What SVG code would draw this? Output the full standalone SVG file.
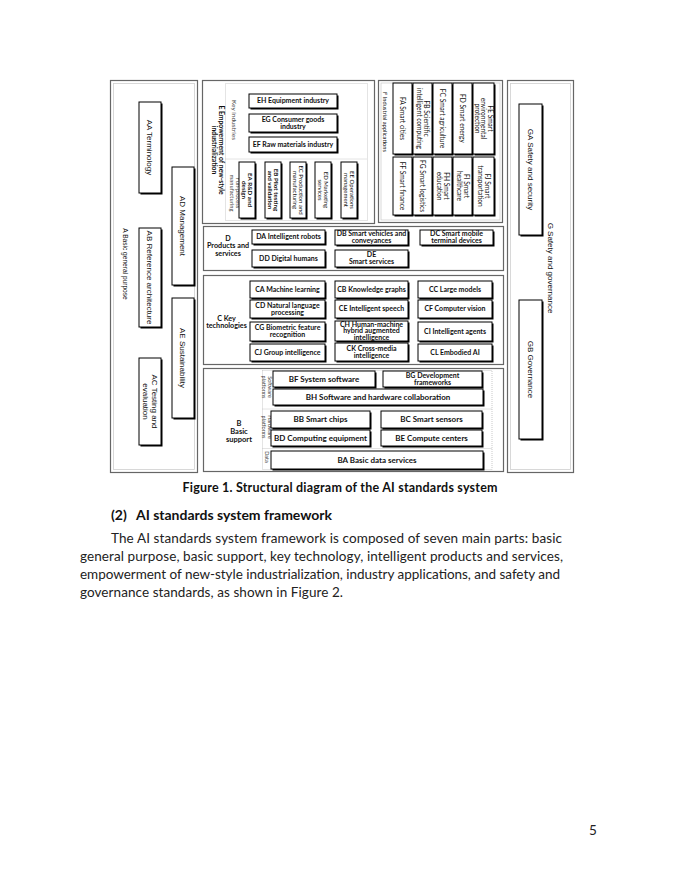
<svg xmlns="http://www.w3.org/2000/svg" width="680" height="880" viewBox="0 0 680 880">
<style>
text{font-family:Lato,"Noto Sans",sans-serif;fill:#111}
.fr{fill:#fff;stroke:#666;stroke-width:1.2}
.fi{fill:none;stroke:#cfcfcf;stroke-width:0.8}
.dt{fill:none;stroke:#bbb;stroke-width:0.8;stroke-dasharray:1 1}
.bx{fill:#fff;stroke:#000;stroke-width:1}
.sh{fill:#000}
.b{font-weight:700;font-size:7px;text-anchor:middle}
.bl{font-weight:700;font-size:7.2px;text-anchor:middle}
.bb{font-weight:700;font-size:8px;text-anchor:middle}
.be{font-weight:700;font-size:7px;text-anchor:middle}
.ev{font-weight:700;font-size:6.8px;text-anchor:middle}
.evb{font-weight:700;font-size:6.2px;text-anchor:middle}
.en{font-size:6px;text-anchor:middle}
.f{font-size:6.6px;text-anchor:middle}
.a{font-family:"Liberation Sans",Arial,sans-serif;font-size:8px;text-anchor:middle}
.as{font-family:"Liberation Sans",Arial,sans-serif;font-size:6.6px;text-anchor:middle}
.lb{font-size:5.5px;text-anchor:middle;fill:#444}
.cap{font-weight:700;font-size:12.5px;text-anchor:middle}
.h{font-weight:700;font-size:14px}
.p{font-size:13.5px;fill:#222}
</style>

<g id="connectors"/>

<!-- A Basic general purpose -->
<g id="A">
<rect class="fr" x="110.5" y="80.5" width="87" height="392"/>
<rect class="fi" x="113.5" y="83.5" width="81" height="386"/>
<text class="as" transform="translate(125,264) rotate(90)" y="2.3">A Basic general purpose</text>
</g>
<g id="AA"><rect class="sh" x="140.5" y="103.5" width="22" height="91"/><rect class="bx" x="139" y="102" width="22" height="91"/><text class="a" transform="translate(150,147.5) rotate(90)" y="2.8">AA Terminology</text></g>
<g id="AD"><rect class="sh" x="173.5" y="168.5" width="22" height="118"/><rect class="bx" x="172" y="167" width="22" height="118"/><text class="a" transform="translate(183,226) rotate(90)" y="2.8">AD Management</text></g>
<g id="AB"><rect class="sh" x="140.5" y="229.5" width="22" height="99"/><rect class="bx" x="139" y="228" width="22" height="99"/><text class="a" transform="translate(150,277.5) rotate(90)" y="2.8">AB Reference architecture</text></g>
<g id="AE"><rect class="sh" x="173.5" y="299.5" width="22" height="120"/><rect class="bx" x="172" y="298" width="22" height="120"/><text class="a" transform="translate(183,358) rotate(90)" y="2.8">AE Sustainability</text></g>
<g id="AC"><rect class="sh" x="140.5" y="359.5" width="22" height="87"/><rect class="bx" x="139" y="358" width="22" height="87"/><text class="a" transform="translate(150,401.5) rotate(90)"><tspan x="0" y="-1.7">AC Testing and</tspan><tspan x="0" y="7.3">evaluation</tspan></text></g>

<!-- G Safety and governance -->
<g id="G">
<rect class="fr" x="507.5" y="80.5" width="66" height="392"/>
<rect class="fi" x="510.5" y="83.5" width="60" height="386"/>
<text class="a" transform="translate(551,268) rotate(90)" y="2.8">G Safety and governance</text>
</g>
<g id="GA"><rect class="sh" x="520.5" y="105.5" width="23" height="131"/><rect class="bx" x="519" y="104" width="23" height="131"/><text class="a" transform="translate(530.5,169.5) rotate(90)" y="2.8">GA Safety and security</text></g>
<g id="GB"><rect class="sh" x="520.5" y="301.5" width="23" height="139"/><rect class="bx" x="519" y="300" width="23" height="139"/><text class="a" transform="translate(530.5,369.5) rotate(90)" y="2.8">GB Governance</text></g>

<!-- E Empowerment -->
<g id="E">
<rect class="fr" x="202.5" y="80.5" width="172" height="143"/>
<rect class="dt" x="225.5" y="83.5" width="142" height="137"/>
<line class="dt" x1="225.5" y1="159" x2="367.5" y2="159"/>
<text class="ev" transform="translate(217.5,150) rotate(90)"><tspan x="0" y="-1.12">E Empowerment of new-style</tspan><tspan x="0" y="5.88">industrialization</tspan></text>
<text class="lb" style="font-size:6.5px" transform="translate(234,120) rotate(90)" y="2.3">Key industries</text>
<text class="lb" style="font-size:5.8px" transform="translate(234.5,193) rotate(90)"><tspan x="0" y="-1">Full-process</tspan><tspan x="0" y="5">manufacturing</tspan></text>
</g>
<g id="EH"><rect class="sh" x="250.5" y="95.5" width="88" height="14"/><rect class="bx" x="249" y="94" width="88" height="14"/><text class="be" x="293" y="103.45">EH Equipment industry</text></g>
<g id="EG"><rect class="sh" x="250.5" y="115.5" width="88" height="18"/><rect class="bx" x="249" y="114" width="88" height="18"/><text class="be"><tspan x="293" y="121.95">EG Consumer goods</tspan><tspan x="293" y="128.95">industry</tspan></text></g>
<g id="EF"><rect class="sh" x="250.5" y="138.5" width="88" height="15"/><rect class="bx" x="249" y="137" width="88" height="15"/><text class="be" x="293" y="146.95">EF Raw materials industry</text></g>
<g id="EA"><rect class="sh" x="240.5" y="163.5" width="16" height="56"/><rect class="bx" x="239" y="162" width="16" height="56"/><text class="evb" transform="translate(247,190) rotate(90)"><tspan x="0" y="-0.98">EA R&amp;D and</tspan><tspan x="0" y="5.32">design</tspan></text></g>
<g id="EB"><rect class="sh" x="266.5" y="163.5" width="16" height="56"/><rect class="bx" x="265" y="162" width="16" height="56"/><text class="evb" transform="translate(273,190) rotate(90)"><tspan x="0" y="-0.98">EB Pilot testing</tspan><tspan x="0" y="5.32">and validation</tspan></text></g>
<g id="EC"><rect class="sh" x="291.5" y="163.5" width="16" height="56"/><rect class="bx" x="290" y="162" width="16" height="56"/><text class="en" transform="translate(298,190) rotate(90)"><tspan x="0" y="-1">EC Production and</tspan><tspan x="0" y="5.2">manufacturing</tspan></text></g>
<g id="ED"><rect class="sh" x="316.5" y="163.5" width="16" height="56"/><rect class="bx" x="315" y="162" width="16" height="56"/><text class="en" transform="translate(323,190) rotate(90)"><tspan x="0" y="-1">ED Marketing</tspan><tspan x="0" y="5.2">services</tspan></text></g>
<g id="EE"><rect class="sh" x="342.5" y="163.5" width="16" height="56"/><rect class="bx" x="341" y="162" width="16" height="56"/><text class="en" transform="translate(349,190) rotate(90)"><tspan x="0" y="-1">EE Operations</tspan><tspan x="0" y="5.2">management</tspan></text></g>

<!-- F Industrial applications -->
<g id="F">
<rect class="fr" x="378.5" y="80.5" width="124" height="142"/>
<rect class="fi" x="381" y="83" width="119" height="137"/>
<text class="f" style="font-size:5.8px" transform="translate(385,122) rotate(90)" y="2">F Industrial applications</text>
</g>
<g id="FA"><rect class="sh" x="394.5" y="84.5" width="19" height="71"/><rect class="bx" x="393" y="83" width="19" height="71"/><text class="f" transform="translate(402.5,118.5) rotate(90)" y="2.3">FA Smart cities</text></g>
<g id="FB"><rect class="sh" x="414.5" y="84.5" width="19" height="71"/><rect class="bx" x="413" y="83" width="19" height="71"/><text class="f" transform="translate(422.5,118.5) rotate(90)"><tspan x="0" y="-1">FB Scientific</tspan><tspan x="0" y="5.6">intelligent computing</tspan></text></g>
<g id="FC"><rect class="sh" x="434.5" y="84.5" width="19" height="71"/><rect class="bx" x="433" y="83" width="19" height="71"/><text class="f" transform="translate(442.5,118.5) rotate(90)" y="2.3">FC Smart agriculture</text></g>
<g id="FD"><rect class="sh" x="454.5" y="84.5" width="19" height="71"/><rect class="bx" x="453" y="83" width="19" height="71"/><text class="f" transform="translate(462.5,118.5) rotate(90)" y="2.3">FD Smart energy</text></g>
<g id="FE"><rect class="sh" x="474.5" y="84.5" width="21" height="71"/><rect class="bx" x="473" y="83" width="21" height="71"/><text class="f" transform="translate(483.5,118.5) rotate(90)"><tspan x="0" y="-4">FE Smart</tspan><tspan x="0" y="2.3">environmental</tspan><tspan x="0" y="8.6">protection</tspan></text></g>
<g id="FF"><rect class="sh" x="394.5" y="158.5" width="19" height="58"/><rect class="bx" x="393" y="157" width="19" height="58"/><text class="f" transform="translate(402.5,186) rotate(90)" y="2.3">FF Smart finance</text></g>
<g id="FG"><rect class="sh" x="414.5" y="158.5" width="19" height="58"/><rect class="bx" x="413" y="157" width="19" height="58"/><text class="f" transform="translate(422.5,186) rotate(90)" y="2.3">FG Smart logistics</text></g>
<g id="FH"><rect class="sh" x="434.5" y="158.5" width="19" height="58"/><rect class="bx" x="433" y="157" width="19" height="58"/><text class="f" transform="translate(442.5,186) rotate(90)"><tspan x="0" y="-1">FH Smart</tspan><tspan x="0" y="5.6">education</tspan></text></g>
<g id="FI"><rect class="sh" x="454.5" y="158.5" width="19" height="58"/><rect class="bx" x="453" y="157" width="19" height="58"/><text class="f" transform="translate(462.5,186) rotate(90)"><tspan x="0" y="-1">FI Smart</tspan><tspan x="0" y="5.6">healthcare</tspan></text></g>
<g id="FJ"><rect class="sh" x="474.5" y="158.5" width="21" height="58"/><rect class="bx" x="473" y="157" width="21" height="58"/><text class="f" transform="translate(483.5,186) rotate(90)"><tspan x="0" y="-1">FJ Smart</tspan><tspan x="0" y="5.6">transportation</tspan></text></g>

<!-- D Products and services -->
<g id="D">
<rect class="fr" x="203.5" y="226.5" width="300" height="44"/>
<text class="bl"><tspan x="228" y="240.5">D</tspan><tspan x="228" y="248">Products and</tspan><tspan x="228" y="255.5">services</tspan></text>
</g>
<g id="DA"><rect class="sh" x="253.5" y="231.5" width="73" height="14"/><rect class="bx" x="252" y="230" width="73" height="14"/><text class="b" x="288.5" y="239.45">DA Intelligent robots</text></g>
<g id="DB"><rect class="sh" x="336.5" y="231.5" width="73" height="15"/><rect class="bx" x="335" y="230" width="73" height="15"/><text class="b"><tspan x="371.5" y="236.45">DB Smart vehicles and</tspan><tspan x="371.5" y="243.45">conveyances</tspan></text></g>
<g id="DC"><rect class="sh" x="421.5" y="231.5" width="73" height="15"/><rect class="bx" x="420" y="230" width="73" height="15"/><text class="b"><tspan x="456.5" y="236.45">DC Smart mobile</tspan><tspan x="456.5" y="243.45">terminal devices</tspan></text></g>
<g id="DD"><rect class="sh" x="253.5" y="251.5" width="73" height="17"/><rect class="bx" x="252" y="250" width="73" height="17"/><text class="b" x="288.5" y="260.95">DD Digital humans</text></g>
<g id="DE"><rect class="sh" x="336.5" y="251.5" width="73" height="17"/><rect class="bx" x="335" y="250" width="73" height="17"/><text class="b"><tspan x="371.5" y="257.45">DE</tspan><tspan x="371.5" y="264.45">Smart services</tspan></text></g>

<!-- C Key technologies -->
<g id="C">
<rect class="fr" x="203.5" y="275.5" width="300" height="89"/>
<text class="bl"><tspan x="226.5" y="320.5">C Key</tspan><tspan x="226.5" y="328">technologies</tspan></text>
</g>
<g id="CA"><rect class="sh" x="251.5" y="282.5" width="75" height="17"/><rect class="bx" x="250" y="281" width="75" height="17"/><text class="b" x="287.5" y="291.95">CA Machine learning</text></g>
<g id="CB"><rect class="sh" x="336.5" y="282.5" width="73" height="17"/><rect class="bx" x="335" y="281" width="73" height="17"/><text class="b" x="371.5" y="291.95">CB Knowledge graphs</text></g>
<g id="CC"><rect class="sh" x="419.5" y="282.5" width="74" height="17"/><rect class="bx" x="418" y="281" width="74" height="17"/><text class="b" x="455" y="291.95">CC Large models</text></g>
<g id="CD"><rect class="sh" x="251.5" y="301.5" width="75" height="18"/><rect class="bx" x="250" y="300" width="75" height="18"/><text class="b"><tspan x="287.5" y="307.95">CD Natural language</tspan><tspan x="287.5" y="314.95">processing</tspan></text></g>
<g id="CE"><rect class="sh" x="336.5" y="301.5" width="73" height="18"/><rect class="bx" x="335" y="300" width="73" height="18"/><text class="b" x="371.5" y="311.45">CE Intelligent speech</text></g>
<g id="CF"><rect class="sh" x="419.5" y="301.5" width="74" height="18"/><rect class="bx" x="418" y="300" width="74" height="18"/><text class="b" x="455" y="311.45">CF Computer vision</text></g>
<g id="CG"><rect class="sh" x="251.5" y="323.5" width="75" height="19"/><rect class="bx" x="250" y="322" width="75" height="19"/><text class="b"><tspan x="287.5" y="330.45">CG Biometric feature</tspan><tspan x="287.5" y="337.45">recognition</tspan></text></g>
<g id="CH"><rect class="sh" x="336.5" y="322.5" width="73" height="20"/><rect class="bx" x="335" y="321" width="73" height="20"/><text class="b"><tspan x="371.5" y="326.95">CH Human-machine</tspan><tspan x="371.5" y="333.45">hybrid augmented</tspan><tspan x="371.5" y="339.95">intelligence</tspan></text></g>
<g id="CI"><rect class="sh" x="419.5" y="323.5" width="74" height="19"/><rect class="bx" x="418" y="322" width="74" height="19"/><text class="b" x="455" y="333.95">CI Intelligent agents</text></g>
<g id="CJ"><rect class="sh" x="251.5" y="345.5" width="75" height="17"/><rect class="bx" x="250" y="344" width="75" height="17"/><text class="b" x="287.5" y="354.95">CJ Group intelligence</text></g>
<g id="CK"><rect class="sh" x="336.5" y="344.5" width="73" height="18"/><rect class="bx" x="335" y="343" width="73" height="18"/><text class="b"><tspan x="371.5" y="350.95">CK Cross-media</tspan><tspan x="371.5" y="357.95">intelligence</tspan></text></g>
<g id="CL"><rect class="sh" x="419.5" y="345.5" width="74" height="17"/><rect class="bx" x="418" y="344" width="74" height="17"/><text class="b" x="455" y="354.95">CL Embodied AI</text></g>

<!-- B Basic support -->
<g id="B">
<rect class="fr" x="203.5" y="368.5" width="300" height="103"/>
<rect class="dt" x="262.5" y="370.5" width="229.5" height="99"/>
<line class="dt" x1="262.5" y1="409" x2="492" y2="409"/>
<line class="dt" x1="262.5" y1="448.5" x2="492" y2="448.5"/>
<text class="bb" style="font-size:7.5px"><tspan x="239" y="426">B</tspan><tspan x="239" y="434">Basic</tspan><tspan x="239" y="442">support</tspan></text>
<text class="lb" transform="translate(267,387) rotate(90)"><tspan x="0" y="-1">Software</tspan><tspan x="0" y="4.8">platforms</tspan></text>
<text class="lb" transform="translate(267,427) rotate(90)"><tspan x="0" y="-1">Hardware</tspan><tspan x="0" y="4.8">platforms</tspan></text>
<text class="lb" transform="translate(267,457) rotate(90)" y="1.9">Data</text>
</g>
<g id="BF"><rect class="sh" x="274.5" y="372.5" width="102" height="16"/><rect class="bx" x="273" y="371" width="102" height="16"/><text class="bb" x="324" y="381.8">BF System software</text></g>
<g id="BG"><rect class="sh" x="384.5" y="372.5" width="99" height="16"/><rect class="bx" x="383" y="371" width="99" height="16"/><text class="bb" style="font-size:7px"><tspan x="432.5" y="378">BG Development</tspan><tspan x="432.5" y="385">frameworks</tspan></text></g>
<g id="BH"><rect class="sh" x="274.5" y="390.5" width="210" height="16"/><rect class="bx" x="273" y="389" width="210" height="16"/><text class="bb" x="378" y="399.8">BH Software and hardware collaboration</text></g>
<g id="BB"><rect class="sh" x="272.5" y="412.5" width="99" height="17"/><rect class="bx" x="271" y="411" width="99" height="17"/><text class="bb" x="320.5" y="422.3">BB Smart chips</text></g>
<g id="BC"><rect class="sh" x="382.5" y="412.5" width="101" height="17"/><rect class="bx" x="381" y="411" width="101" height="17"/><text class="bb" x="431.5" y="422.3">BC Smart sensors</text></g>
<g id="BD"><rect class="sh" x="272.5" y="431.5" width="99" height="16"/><rect class="bx" x="271" y="430" width="99" height="16"/><text class="bb" x="320.5" y="440.8">BD Computing equipment</text></g>
<g id="BE"><rect class="sh" x="382.5" y="431.5" width="101" height="16"/><rect class="bx" x="381" y="430" width="101" height="16"/><text class="bb" x="431.5" y="440.8">BE Compute centers</text></g>
<g id="BA"><rect class="sh" x="272.5" y="452.5" width="212" height="18"/><rect class="bx" x="271" y="451" width="212" height="18"/><text class="bb" x="377" y="462.8">BA Basic data services</text></g>

<!-- Caption and body -->
<g id="caption">
<text class="cap" x="340" y="492" textLength="315">Figure 1. Structural diagram of the AI standards system</text>
</g>
<g id="body">
<text class="h"><tspan x="111" y="519.5">(2)</tspan><tspan x="136" y="519.5" textLength="196">AI standards system framework</tspan></text>
<text class="p" x="111" y="543" textLength="451">The AI standards system framework is composed of seven main parts: basic</text>
<text class="p" x="80" y="561" textLength="483">general purpose, basic support, key technology, intelligent products and services,</text>
<text class="p" x="80" y="579" textLength="480">empowerment of new-style industrialization, industry applications, and safety and</text>
<text class="p" x="80" y="596.5" textLength="263">governance standards, as shown in Figure 2.</text>
<text class="p" x="593" y="835" text-anchor="middle">5</text>
</g>
</svg>
